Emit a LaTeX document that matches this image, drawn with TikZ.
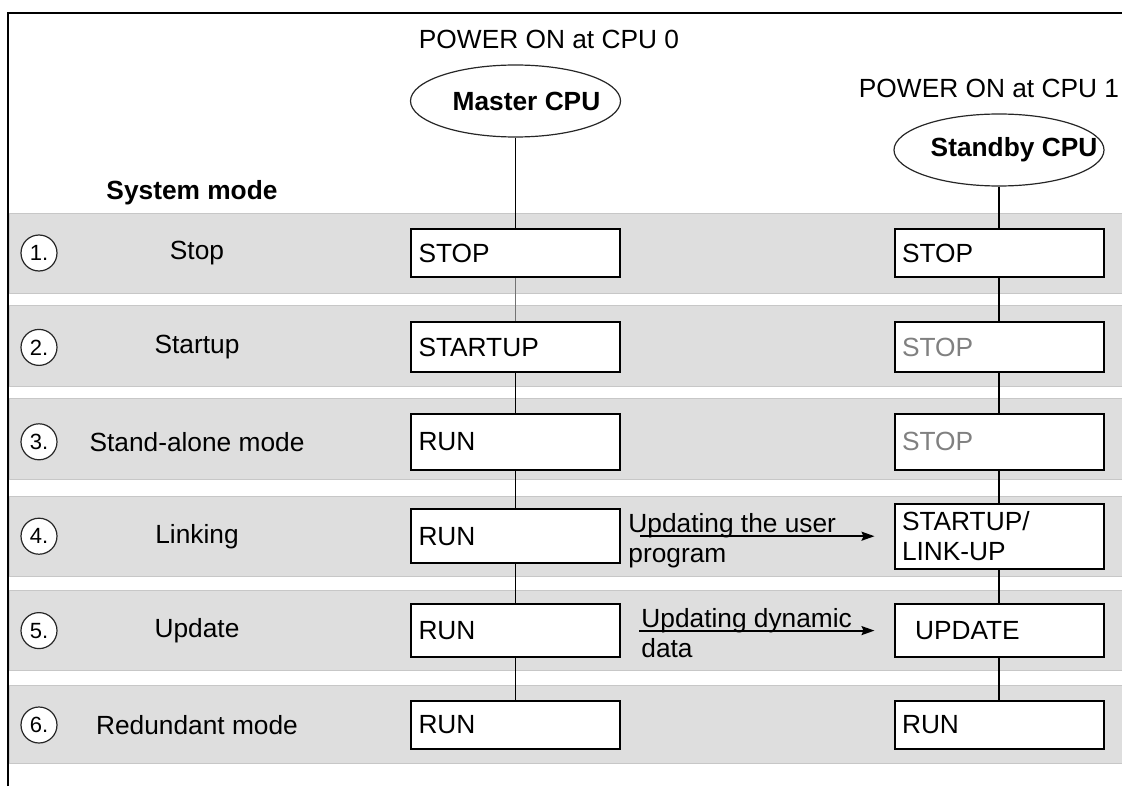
\documentclass[tikz,border=0pt]{standalone}
\usepackage{fontspec}
\setmainfont{Liberation Sans}
\usetikzlibrary{arrows.meta, shapes.geometric}

\begin{document}
\begin{tikzpicture}[
            x = 0.5pt, y = -0.5pt, % one unit is one pixel, y runs down
            > = {Stealth[length=6.5pt, width=4.5pt, inset=1pt]}, % arrow head style
            node distance = 47.2pt, % distance between rows
            font = \fontsize{13.15pt}{15pt}\selectfont
        ]

        \tikzstyle{band}=[
            fill = black!13,
            draw = black!22,
            line width = 0.5pt
        ]
        \tikzstyle{cpu}=[
            ellipse,
            draw = black!85,
            line width = 0.6pt,
            fill = white,
            minimum width = 105pt,
            minimum height = 36pt,
            inner sep = 0pt
        ]
        \tikzstyle{cpuname}=[font = \fontsize{13.15pt}{15pt}\selectfont\bfseries]
        \tikzstyle{opmode}=[
            draw = black,
            line width = 1pt,
            fill = white,
            text width = 97pt,
            align = left,
            inner xsep = 3.75pt,
            minimum height = 25pt
        ]
        \tikzstyle{num}=[
            circle,
            draw = black!85,
            line width = 0.6pt,
            fill = white,
            minimum size = 18pt,
            inner sep = 0pt,
            font = \fontsize{11pt}{12pt}\selectfont
        ]
        \tikzstyle{link}=[line width = 0.9pt]
        \tikzstyle{note}=[align = left, inner sep = 0pt]

        \useasboundingbox (0,0) rectangle (1122,786);

        % grey bands of the six system modes
        \path[band] (9,213) rectangle (1122,293);
        \path[band] (9,305) rectangle (1122,386);
        \path[band] (9,398) rectangle (1122,479);
        \path[band] (9,496) rectangle (1122,576);
        \path[band] (9,590) rectangle (1122,670);
        \path[band] (9,685) rectangle (1122,763);

        \draw[line width = 1pt] (8,786) -- (8,13) -- (1122,13);

        \node[font = \fontsize{13.15pt}{15pt}\selectfont\bfseries] (sysmode) at (192,193) {System mode};

        % master CPU
        \node[opmode, minimum height = 24pt] (m1) at (515.5,253) {STOP};
        \node[opmode] (m2) [below of=m1] {STARTUP};
        \node[opmode, minimum height = 28pt] (m3) [below of=m2] {RUN};
        \node[opmode, minimum height = 27pt] (m4) [below of=m3] {RUN};
        \node[opmode, minimum height = 26.5pt] (m5) [below of=m4] {RUN};
        \node[opmode, minimum height = 24pt] (m6) [below of=m5] {RUN};
        \node[cpu, node distance = 76pt, above of=m1] (mcpu) {};
        \node[cpuname] (mname) at ([xshift=5.5pt]mcpu.center) {Master CPU};
        \node (pwr0) at (549,39) {POWER ON at CPU 0};

        % standby CPU
        \node[opmode, minimum height = 24pt, node distance = 241.75pt, right of=m1] (s1) {STOP};
        \node[opmode, text = black!50, node distance = 241.75pt, right of=m2] (s2) {STOP};
        \node[opmode, minimum height = 28pt, text = black!50, node distance = 241.75pt, right of=m3] (s3) {STOP};
        \node[opmode, minimum height = 32.5pt, node distance = 241.75pt, right of=m4] (s4) {STARTUP/\\LINK-UP};
        \node[opmode, minimum height = 26.5pt, node distance = 241.75pt, right of=m5] (s5) {\hspace*{6.5pt}UPDATE};
        \node[opmode, minimum height = 24pt, node distance = 241.75pt, right of=m6] (s6) {RUN};
        \node[cpu, node distance = 51.5pt, above of=s1] (scpu) {};
        \node[cpuname] (sname) at ([xshift=7.5pt]scpu.center) {Standby CPU};
        \node (pwr1) at (989,88) {POWER ON at CPU 1};

        % system modes
        \node[node distance = 159.25pt, left of=m1] (l1) {Stop};
        \node[node distance = 159.25pt, left of=m2] (l2) {Startup};
        \node[node distance = 159.25pt, left of=m3] (l3) {Stand-alone mode};
        \node[node distance = 159.25pt, left of=m4] (l4) {Linking};
        \node[node distance = 159.25pt, left of=m5] (l5) {Update};
        \node[node distance = 159.25pt, left of=m6] (l6) {Redundant mode};
        \node[num, node distance = 79pt, left of=l1] (n1) {1.};
        \node[num, node distance = 79pt, left of=l2] (n2) {2.};
        \node[num, node distance = 79pt, left of=l3] (n3) {3.};
        \node[num, node distance = 79pt, left of=l4] (n4) {4.};
        \node[num, node distance = 79pt, left of=l5] (n5) {5.};
        \node[num, node distance = 79pt, left of=l6] (n6) {6.};

        \path[link] (mcpu) edge (m1);
        \path[link] (m1) edge[draw = black!55] (m2);
        \path[link] (m2) edge (m3);
        \path[link] (m3) edge (m4);
        \path[link] (m4) edge (m5);
        \path[link] (m5) edge (m6);

        \path[link] (scpu) edge (s1);
        \path[link] (s1) edge (s2);
        \path[link] (s2) edge (s3);
        \path[link] (s3) edge (s4);
        \path[link] (s4) edge (s5);
        \path[link] (s5) edge (s6);

        % updates from master to standby
        \node[note, anchor = west] (upd1) at (628,541) {Updating the user\\program};
        \node[note, anchor = west] (upd2) at (641,633) {Updating dynamic\\data};
        \draw[link, ->] ([xshift=9.5pt]m4.east) -- ([xshift=-9.5pt]s4.west);
        \draw[link, ->] ([xshift=9pt]m5.east) -- ([xshift=-9.5pt]s5.west);
    \end{tikzpicture}
\end{document}
